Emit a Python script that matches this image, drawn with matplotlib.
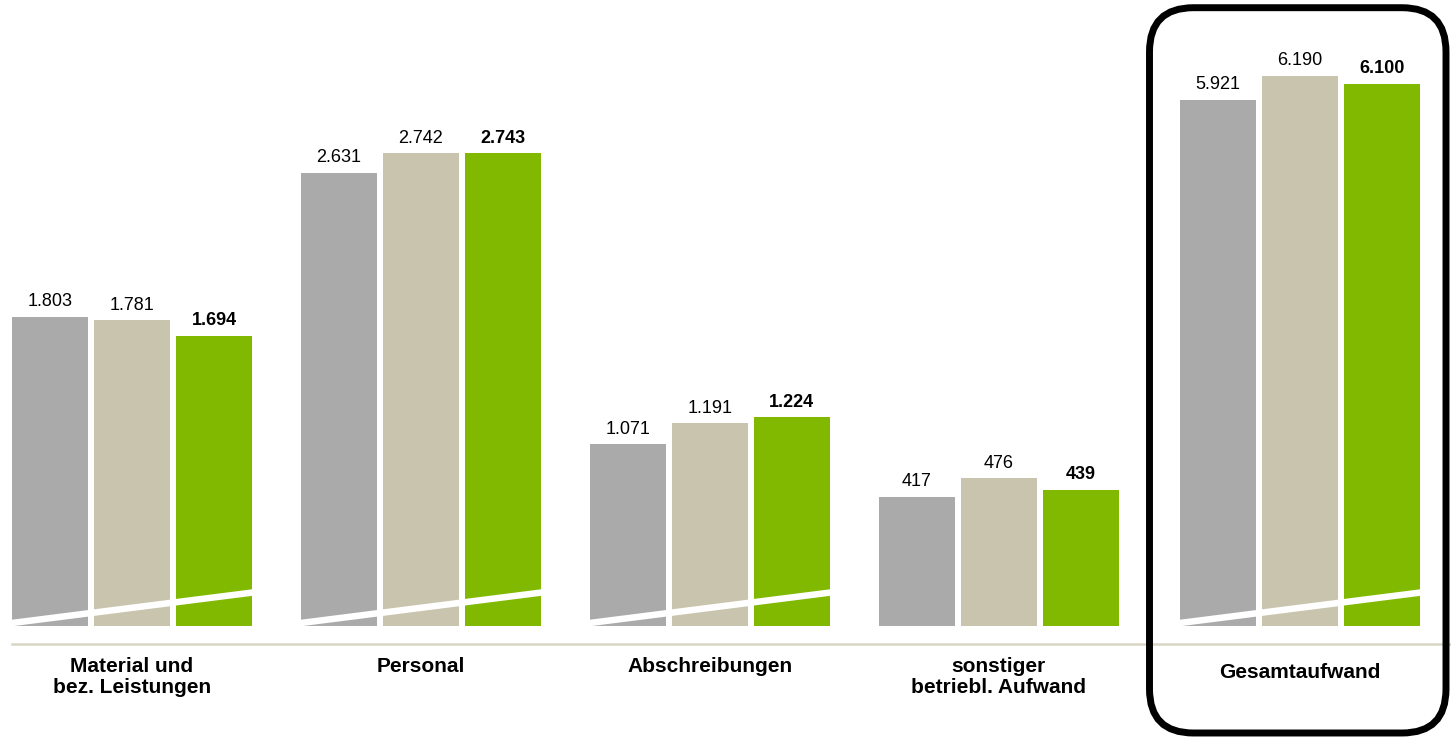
import numpy as np
import matplotlib
matplotlib.use("Agg")
import matplotlib.pyplot as plt
from matplotlib.patches import FancyBboxPatch
from matplotlib.lines import Line2D

plt.rcParams['font.family'] = ['Liberation Sans', 'DejaVu Sans']

# ---- data ----
categories = ["Material und\nbez. Leistungen", "Personal", "Abschreibungen",
              "sonstiger\nbetriebl. Aufwand", "Gesamtaufwand"]
series1 = [1803, 2631, 1071, 417, 5921]   # grey
series2 = [1781, 2742, 1191, 476, 6190]   # beige
series3 = [1694, 2743, 1224, 439, 6100]   # green (bold labels)
# display scaling per group (broken / stretched axis as in the original)
display_scale = [1.0, 1.0, 1.0, 1.84, 0.515]
has_break = [True, True, True, False, True]

colors = ["#aaaaaa", "#c9c4ae", "#80b900"]

W, H = 1451, 749
fig = plt.figure(figsize=(W / 100, H / 100), dpi=100)
ax_bottom_px = 626
ax = fig.add_axes([0, (H - ax_bottom_px) / H, 1, ax_bottom_px / H])
ax.set_axis_off()

px_per_unit_x = 288.9
x_left_px = 132
xpos = np.arange(len(categories)) + np.array([0, 0, 0, 0, 0.043])
ax.set_xlim(-x_left_px / px_per_unit_x, (W - x_left_px) / px_per_unit_x)

px_per_val = 0.174
y0 = 25
ax.set_ylim(y0, y0 + ax_bottom_px / px_per_val)

bw = 76 / px_per_unit_x
step = 82 / px_per_unit_x

def fmt(v):
    return f"{v:,}".replace(",", ".")

all_series = [series1, series2, series3]
for si, ser in enumerate(all_series):
    heights = np.array(ser) * np.array(display_scale)
    xs = xpos + (si - 1) * step
    ax.bar(xs, heights, width=bw, color=colors[si], linewidth=0, zorder=2)
    for x, h, v in zip(xs, heights, ser):
        ax.annotate(fmt(v), (x, h), xytext=(0, 7.5), textcoords="offset points",
                    ha="center", va="baseline", fontsize=13,
                    fontweight="bold" if si == 2 else "normal", color="black")

# break markers (white diagonal strokes)
brk_y_left = y0 + 3 / px_per_val
brk_y_right = y0 + 33.4 / px_per_val
for x, b in zip(xpos, has_break):
    if not b:
        continue
    xl = x - step - bw / 2
    xr = x + step + bw / 2
    slope = (brk_y_right - brk_y_left) / (xr - xl)
    ext = 0.02
    ax.plot([xl - ext, xr + ext],
            [brk_y_left - slope * ext, brk_y_right + slope * ext],
            color="white", lw=4.7, solid_capstyle="butt", zorder=3)

# category labels
for i, (x, lab) in enumerate(zip(xpos, categories)):
    off = -26.6 if i == 4 else -22.3
    ax.annotate(lab, (x, 0), xycoords=("data", "axes fraction"),
                xytext=(0, off), textcoords="offset points",
                ha="center", va="top", fontsize=15, fontweight="bold",
                linespacing=1.14, annotation_clip=False)

# base rule
yl = 1 - 643.5 / H
fig.add_artist(Line2D([12 / W, 1], [yl, yl], transform=fig.transFigure,
                      color="#d9d5c5", lw=1.8))

# rounded highlight box around the total
box = FancyBboxPatch((1149.5 / 100, (H - 733) / 100), (1446 - 1149.5) / 100,
                     (733 - 7.7) / 100,
                     boxstyle="round,pad=0,rounding_size=0.44",
                     transform=fig.dpi_scale_trans, fill=False,
                     edgecolor="black", lw=5, zorder=5)
fig.add_artist(box)

fig.savefig("out.png", dpi=100)
